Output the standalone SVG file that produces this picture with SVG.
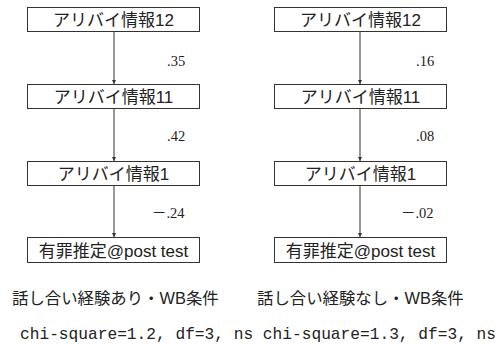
<svg xmlns="http://www.w3.org/2000/svg" width="500" height="344" viewBox="0 0 500 344">
<defs>
<style>
.box{fill:#fff;stroke:#333;stroke-width:1}
.lbl{font-family:"Liberation Sans","Noto Sans CJK JP",sans-serif;font-size:17px;fill:#222;text-anchor:middle}
.num{font-family:"Liberation Serif","Noto Sans CJK JP",serif;font-size:14.5px;fill:#222}
.cap{font-family:"Liberation Sans","Noto Sans CJK JP",sans-serif;font-size:16.4px;fill:#222}
.mono{font-family:"Liberation Mono",monospace;font-size:16.2px;fill:#222}
.edge{stroke:#333;stroke-width:1;fill:none;marker-end:url(#ah)}
</style>
<marker id="ah" viewBox="0 0 6 6" refX="6" refY="3" markerWidth="4" markerHeight="4" orient="auto" markerUnits="userSpaceOnUse">
<path d="M0,0 L6,3 L0,6 z" fill="#333"/>
</marker>
</defs>
<g id="connectors">
<line class="edge" x1="114" y1="31" x2="114" y2="84"/>
<line class="edge" x1="114" y1="109" x2="114" y2="161"/>
<line class="edge" x1="114" y1="185" x2="114" y2="237"/>
<line class="edge" x1="360" y1="31" x2="360" y2="84"/>
<line class="edge" x1="360" y1="109" x2="360" y2="161"/>
<line class="edge" x1="360" y1="185" x2="360" y2="237"/>
<text class="num" x="167" y="66">.35</text>
<text class="num" x="167" y="141">.42</text>
<text class="num" x="152" y="218">－.24</text>
<text class="num" x="416" y="66">.16</text>
<text class="num" x="416" y="141">.08</text>
<text class="num" x="401" y="218">－.02</text>
</g>
<g id="L12"><rect class="box" x="27.5" y="7.5" width="172" height="24"/><text class="lbl" x="113.5" y="26">アリバイ情報12</text></g>
<g id="L11"><rect class="box" x="27.5" y="84.5" width="172" height="24"/><text class="lbl" x="113.5" y="103">アリバイ情報11</text></g>
<g id="L1"><rect class="box" x="27.5" y="161.5" width="172" height="24"/><text class="lbl" x="113.5" y="180">アリバイ情報1</text></g>
<g id="LG"><rect class="box" x="27.5" y="237.5" width="172" height="25"/><text class="lbl" x="113.5" y="256.5">有罪推定@post test</text></g>
<g id="R12"><rect class="box" x="274.5" y="7.5" width="172" height="24"/><text class="lbl" x="360.5" y="26">アリバイ情報12</text></g>
<g id="R11"><rect class="box" x="274.5" y="84.5" width="172" height="24"/><text class="lbl" x="360.5" y="103">アリバイ情報11</text></g>
<g id="R1"><rect class="box" x="274.5" y="161.5" width="172" height="24"/><text class="lbl" x="360.5" y="180">アリバイ情報1</text></g>
<g id="RG"><rect class="box" x="274.5" y="237.5" width="172" height="25"/><text class="lbl" x="360.5" y="256.5">有罪推定@post test</text></g>
<text class="cap" x="12" y="304">話し合い経験あり・WB条件</text>
<text class="cap" x="257" y="304">話し合い経験なし・WB条件</text>
<text class="mono" x="20" y="339" xml:space="preserve">chi-square=1.2, df=3, ns chi-square=1.3, df=3, ns</text>
</svg>
